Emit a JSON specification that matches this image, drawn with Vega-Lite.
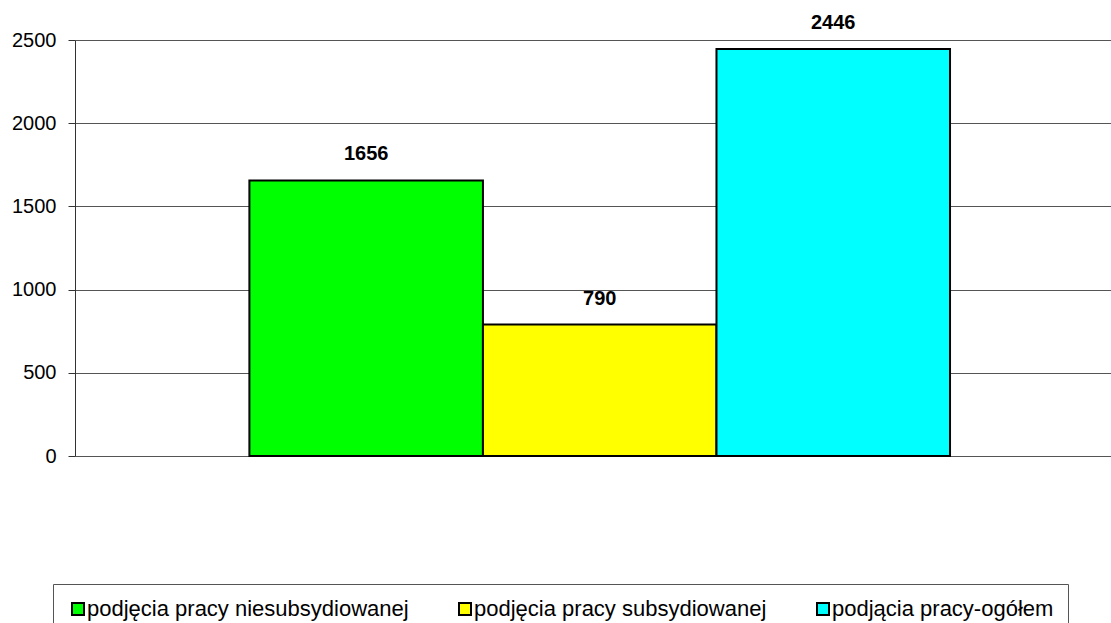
{
  "$schema": "https://vega.github.io/schema/vega-lite/v6.json",
  "width": 1036,
  "height": 416,
  "autosize": {"type": "none"},
  "padding": {"left": 75, "top": 40, "right": 0, "bottom": 167},
  "config": {
    "font": "Liberation Sans",
    "view": {"stroke": null},
    "axis": {"labelFont": "Liberation Sans", "labelColor": "black"}
  },
  "data": {
    "values": [
      {"seria": "podjęcia pracy niesubsydiowanej", "liczba": 1656},
      {"seria": "podjęcia pracy subsydiowanej", "liczba": 790},
      {"seria": "podjącia pracy-ogółem", "liczba": 2446}
    ]
  },
  "encoding": {
    "x": {
      "field": "seria",
      "type": "nominal",
      "sort": null,
      "scale": {"paddingInner": 0, "paddingOuter": 0.718, "align": 0.52},
      "axis": null
    },
    "y": {
      "field": "liczba",
      "type": "quantitative",
      "scale": {"domain": [0, 2500], "nice": false},
      "axis": {
        "title": null,
        "format": "d",
        "values": [0, 500, 1000, 1500, 2000, 2500],
        "grid": true,
        "gridColor": "#555555",
        "gridWidth": 1,
        "domainColor": "#333333",
        "tickColor": "#333333",
        "tickSize": 7,
        "labelPadding": 12,
        "labelFontSize": 20
      }
    }
  },
  "layer": [
    {
      "mark": {"type": "bar", "stroke": "black", "strokeWidth": 2},
      "encoding": {
        "color": {
          "field": "seria",
          "type": "nominal",
          "sort": null,
          "scale": {"range": ["#00ff00", "#ffff00", "#00ffff"]},
          "legend": {
            "title": null,
            "orient": "none",
            "legendX": -22,
            "legendY": 544,
            "direction": "horizontal",
            "columns": 3,
            "gridAlign": "none",
            "columnPadding": 45,
            "strokeColor": "#555555",
            "padding": 14,
            "symbolType": "square",
            "symbolSize": 144,
            "symbolStrokeColor": "black",
            "symbolStrokeWidth": 2,
            "symbolOpacity": 1,
            "labelFontSize": 22,
            "labelColor": "black",
            "labelOffset": -2,
            "labelLimit": 500
          }
        }
      }
    },
    {
      "mark": {
        "type": "text",
        "fontSize": 20,
        "fontWeight": "bold",
        "baseline": "alphabetic",
        "dy": -20,
        "color": "black"
      },
      "encoding": {
        "text": {"field": "liczba", "type": "quantitative"}
      }
    }
  ]
}
